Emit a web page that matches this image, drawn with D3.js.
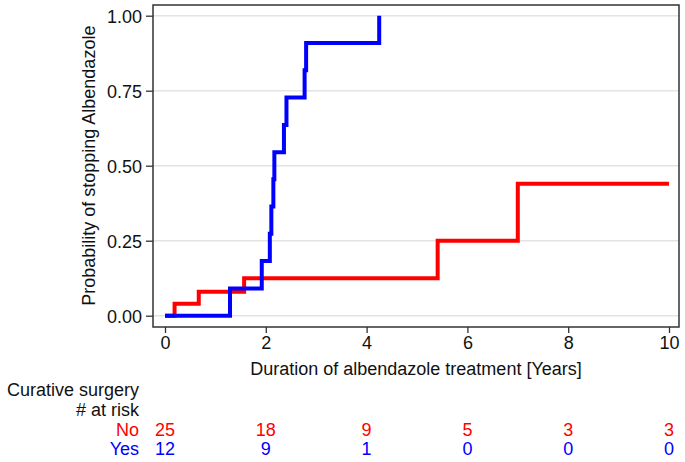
<!DOCTYPE html>
<html lang="en">
<head>
    <meta charset="utf-8">
    <script src="https://d3js.org/d3.v7.min.js"></script>
    <title>Albendazole</title>
    <style>
        body { margin: 0; background: #fff; }
        svg text { font-family: "Liberation Sans", Arial, sans-serif; }
    </style>
</head>
<body>
    <svg id="chart"></svg>
    <script>
        // step data: [years, probability]
        const noSteps = [[0, 0], [0.19, 0.04], [0.67, 0.08], [1.57, 0.125], [5.41, 0.25], [7.0, 0.44], [10, 0.44]];
        const yesSteps = [[0, 0], [1.29, 0.091], [1.92, 0.182], [2.08, 0.273], [2.11, 0.364], [2.15, 0.455],
                          [2.17, 0.545], [2.36, 0.636], [2.41, 0.727], [2.77, 0.818], [2.80, 0.909], [4.25, 1.0]];
        const xTicks = [0, 2, 4, 6, 8, 10];
        const yTicks = [0, 0.25, 0.5, 0.75, 1];
        const riskNo = [25, 18, 9, 5, 3, 3];
        const riskYes = [12, 9, 1, 0, 0, 0];

        const W = 685, H = 462;
        const FS = "18px";
        const frame = {left: 153, right: 679, top: 5, bottom: 327};

        const svg = d3.select("#chart").attr("width", W).attr("height", H);

        const x = d3.scaleLinear().domain([0, 10]).range([165, 669]);
        const y = d3.scaleLinear().domain([0, 1]).range([315.7, 15.7]);

        // gridlines
        svg.append("g")
           .selectAll("line")
           .data(yTicks)
           .join("line")
           .attr("x1", frame.left).attr("x2", frame.right)
           .attr("y1", d => y(d)).attr("y2", d => y(d))
           .attr("stroke", "#e3e3e3").attr("stroke-width", 1.5);

        // axes
        const yAxis = svg.append("g")
           .attr("transform", `translate(${frame.left},0)`)
           .call(d3.axisLeft(y).tickValues(yTicks).tickFormat(d3.format(".2f")).tickSize(7).tickPadding(4));
        yAxis.selectAll("text").attr("dy", "0.4em");
        const xAxis = svg.append("g")
           .attr("transform", `translate(0,${frame.bottom})`)
           .call(d3.axisBottom(x).tickValues(xTicks).tickSize(6).tickPadding(3));
        [yAxis, xAxis].forEach(a => {
            a.select(".domain").remove();
            a.selectAll("line").attr("stroke", "#333").attr("stroke-width", 1.3);
            a.selectAll("text").attr("fill", "#111").style("font-size", FS);
        });

        // frame
        svg.append("rect")
           .attr("x", frame.left).attr("y", frame.top)
           .attr("width", frame.right - frame.left).attr("height", frame.bottom - frame.top)
           .attr("fill", "none").attr("stroke", "#333").attr("stroke-width", 1.5);

        // survival steps
        const line = d3.line().x(d => x(d[0])).y(d => y(d[1])).curve(d3.curveStepAfter);
        svg.append("path").datum(noSteps).attr("d", line)
           .attr("fill", "none").attr("stroke", "#ff0000").attr("stroke-width", 4);
        svg.append("path").datum(yesSteps).attr("d", line)
           .attr("fill", "none").attr("stroke", "#0000ff").attr("stroke-width", 4);

        // titles
        svg.append("text")
           .attr("transform", `translate(94.5,${(y(0) + y(1)) / 2}) rotate(-90)`)
           .attr("text-anchor", "middle").style("font-size", FS).attr("fill", "#111")
           .text("Probability of stopping Albendazole");
        svg.append("text")
           .attr("x", (frame.left + frame.right) / 2).attr("y", 375)
           .attr("text-anchor", "middle").style("font-size", FS).attr("fill", "#111")
           .text("Duration of albendazole treatment [Years]");

        // risk table
        svg.append("text").attr("x", 139).attr("y", 396).attr("text-anchor", "end")
           .style("font-size", FS).attr("fill", "#111").text("Curative surgery");
        svg.append("text").attr("x", 139).attr("y", 415.5).attr("text-anchor", "end")
           .style("font-size", FS).attr("fill", "#111").text("# at risk");

        const rows = [{label: "No", vals: riskNo, color: "#ff0000", yy: 436},
                      {label: "Yes", vals: riskYes, color: "#0000ff", yy: 455}];
        rows.forEach(r => {
            svg.append("text").attr("x", 139).attr("y", r.yy).attr("text-anchor", "end")
               .style("font-size", FS).attr("fill", r.color).text(r.label);
            svg.append("g").selectAll("text")
               .data(r.vals)
               .join("text")
               .attr("x", (d, i) => x(xTicks[i]))
               .attr("y", r.yy)
               .attr("text-anchor", "middle")
               .style("font-size", FS)
               .attr("fill", r.color)
               .text(d => d);
        });
    </script>
</body>
</html>
